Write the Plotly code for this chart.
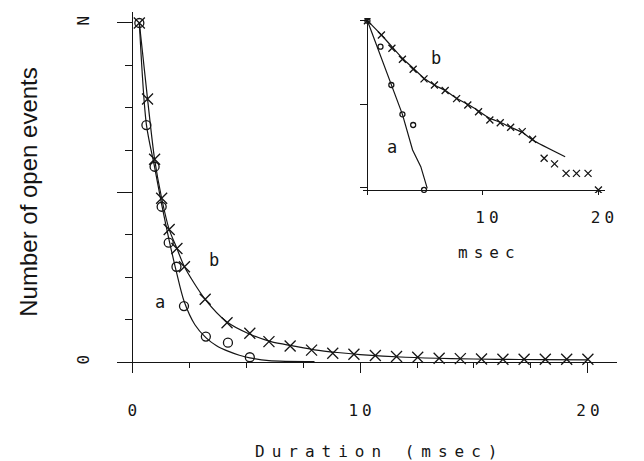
import math
import plotly.graph_objects as go

# ---------------- data (fraction of N) ----------------
# main plot, linear scale
t_a = [0.31, 0.62, 0.98, 1.29, 1.60, 1.94, 2.27, 3.23, 4.20, 5.16]
n_a = [1.0, 0.699, 0.576, 0.458, 0.352, 0.281, 0.165, 0.075, 0.057, 0.014]
t_b = [0.31, 0.67, 0.98, 1.29, 1.62, 1.96, 2.29, 3.20, 4.16, 5.16, 6.0, 6.93,
       7.87, 8.8, 9.73, 10.67, 11.6, 12.53, 13.47, 14.4, 15.33, 16.27, 17.2,
       18.13, 19.07, 20.0]
n_b = [1.0, 0.776, 0.598, 0.483, 0.391, 0.335, 0.281, 0.185, 0.116, 0.085,
       0.060, 0.047, 0.035, 0.026, 0.023, 0.019, 0.016, 0.014, 0.011, 0.010,
       0.009, 0.008, 0.008, 0.008, 0.008, 0.008]
fit_t_a = [0.31, 0.62, 0.98, 1.29, 1.60, 1.94, 2.27, 2.75, 3.23, 3.7, 4.2,
           4.7, 5.16, 6.0, 8.0]
fit_n_a = [1.0, 0.70, 0.575, 0.465, 0.365, 0.265, 0.18, 0.11, 0.072, 0.048,
           0.032, 0.02, 0.012, 0.004, 0.001]
fit_t_b = [0.31, 0.67, 0.98, 1.29, 1.62, 1.96, 2.29, 3.2, 4.16, 5.16, 6.09,
           7.1, 8.0, 9.0, 10, 12, 14, 16, 18, 20]
fit_n_b = [1.0, 0.776, 0.598, 0.483, 0.391, 0.335, 0.281, 0.185, 0.118,
           0.082, 0.060, 0.047, 0.036, 0.028, 0.022, 0.014, 0.010, 0.008,
           0.007, 0.006]

# inset, log scale
it_a = [0, 1.13, 2.07, 3.03, 3.96, 4.90]
in_a = [1.0, 0.488, 0.169, 0.0752, 0.056, 0.0093]
it_b = [0, 1.21, 2.12, 3.03, 3.96, 4.9, 5.8, 6.73, 7.72, 8.69, 9.62, 10.6,
        11.5, 12.4, 13.4, 14.3, 15.3, 16.2, 17.2, 18.1, 19.1, 20.0]
in_b = [1.0, 0.673, 0.466, 0.344, 0.261, 0.200, 0.169, 0.145, 0.116, 0.0973,
        0.0809, 0.0643, 0.0597, 0.0525, 0.0466, 0.0377, 0.0223, 0.0191,
        0.0147, 0.0147, 0.0147, 0.0093]
ifit_t_a = [0, 2.07, 3.03, 3.91, 4.62, 5.18]
ifit_n_a = [1.0, 0.169, 0.0752, 0.0281, 0.0177, 0.0097]
ifit_t_b = [0, 1.21, 2.12, 3.03, 3.96, 4.9, 5.8, 6.73, 7.72, 8.69, 9.62,
            10.6, 11.5, 12.4, 13.4, 14.3, 17.12]
ifit_n_b = [1.0, 0.673, 0.488, 0.354, 0.269, 0.204, 0.169, 0.145, 0.117,
            0.0991, 0.0824, 0.0673, 0.0603, 0.0525, 0.0457, 0.037, 0.0233]

main_xticks = [0, 10, 20]
main_xticktext = ["0", "10", "20"]
main_yticks = [0, 0.5, 1.0]
main_yticktext = ["0", "", "N"]
inset_xticks = [0, 10, 20]
inset_xticktext = ["", "10", "20"]
inset_yticks = [0.01, 0.1, 1.0]

x_title = "Duration (msec)"
y_title = "Number of open events"
inset_title = "msec"

INK = "#151515"
PLOT_FONT = "DejaVu Sans Mono"
W, H = 644, 461


def sp(txt, ls=5):
    return "<span style='letter-spacing:%dpx'>%s</span>" % (ls, txt)


fig = go.Figure()
line = dict(color=INK, width=1.2)
fig.add_trace(go.Scatter(x=fit_t_a, y=fit_n_a, mode="lines", line=dict(line, shape="spline", smoothing=0.8),
                         xaxis="x", yaxis="y", hoverinfo="skip"))
fig.add_trace(go.Scatter(x=fit_t_b, y=fit_n_b, mode="lines", line=dict(line, shape="spline", smoothing=0.8),
                         xaxis="x", yaxis="y", hoverinfo="skip"))
fig.add_trace(go.Scatter(x=t_a, y=n_a, mode="markers",
                         marker=dict(symbol="circle-open", size=9, color=INK, line=dict(width=1.3, color=INK)),
                         xaxis="x", yaxis="y"))
fig.add_trace(go.Scatter(x=t_b, y=n_b, mode="markers",
                         marker=dict(symbol="x-thin-open", size=11, color=INK, line=dict(width=1.3, color=INK)),
                         xaxis="x", yaxis="y"))

# inset
fig.add_trace(go.Scatter(x=ifit_t_a, y=ifit_n_a, mode="lines", line=line,
                         xaxis="x2", yaxis="y2", hoverinfo="skip"))
fig.add_trace(go.Scatter(x=ifit_t_b, y=ifit_n_b, mode="lines", line=dict(line, shape="spline", smoothing=0.6),
                         xaxis="x2", yaxis="y2", hoverinfo="skip"))
fig.add_trace(go.Scatter(x=it_a, y=in_a, mode="markers",
                         marker=dict(symbol="circle-open", size=5, color=INK, line=dict(width=1.3, color=INK)),
                         xaxis="x2", yaxis="y2"))
fig.add_trace(go.Scatter(x=it_b, y=in_b, mode="markers",
                         marker=dict(symbol="x-thin-open", size=7, color=INK, line=dict(width=1.3, color=INK)),
                         xaxis="x2", yaxis="y2"))


def px_x(p):
    return p / W


def px_y(p):
    return (H - p) / H


tickfont = dict(family=PLOT_FONT, size=16, color=INK)
common = dict(showgrid=False, zeroline=False, showline=True, linecolor=INK,
              linewidth=1.3, tickcolor=INK, tickwidth=1.3, ticks="outside")

fig.update_layout(
    width=W, height=H, margin=dict(l=0, r=0, t=0, b=0),
    paper_bgcolor="white", plot_bgcolor="white", showlegend=False,
    xaxis=dict(common, domain=[px_x(120), px_x(630)], range=[-0.645, 21.29],
               anchor="free", position=px_y(362),
               tickvals=main_xticks, ticktext=[sp(t, 4) for t in main_xticktext],
               ticklen=10, tickfont=tickfont, ticklabelstandoff=24, ticklabelshift=2,
               minor=dict(dtick=2.5, tick0=0, ticklen=5, ticks="outside", tickcolor=INK, tickwidth=1.3, showgrid=False)),
    yaxis=dict(common, domain=[px_y(372), px_y(12)], range=[-0.0295, 1.0324],
               anchor="free", position=px_x(135),
               tickvals=main_yticks, ticktext=main_yticktext, tickangle=-90,
               ticklen=15, tickfont=tickfont, ticklabelstandoff=22,
               minor=dict(dtick=0.125, tick0=0, ticklen=7, ticks="outside", tickcolor=INK, tickwidth=1.3, showgrid=False),
               title=dict(text=y_title, font=dict(family="Liberation Sans", size=24, color=INK), standoff=28)),
    xaxis2=dict(common, domain=[px_x(370), px_x(617)], range=[-0.424, 20.53],
                anchor="free", position=px_y(190),
                tickvals=inset_xticks, ticktext=[sp(t, 4) for t in inset_xticktext],
                ticklen=4, tickfont=tickfont, ticklabelstandoff=9, ticklabelshift=6),
    yaxis2=dict(common, type="log", domain=[px_y(193), px_y(18)], range=[-2.068, 0.032],
                anchor="free", position=px_x(375),
                tickvals=inset_yticks, ticktext=["", "", ""], ticklen=7),
)

ttl = dict(showarrow=False, xref="paper", yref="paper", xanchor="center", yanchor="middle",
           font=dict(family=PLOT_FONT, size=16, color=INK))
fig.add_annotation(x=px_x(388), y=px_y(451), text=sp(x_title, 7), **ttl)
fig.add_annotation(x=px_x(500), y=px_y(252), text=sp(inset_title, 6), **ttl)

lab = dict(showarrow=False, font=dict(family=PLOT_FONT, size=17, color=INK))
fig.add_annotation(x=3.6, y=0.3, xref="x", yref="y", text="b", **lab)
fig.add_annotation(x=1.2, y=0.178, xref="x", yref="y", text="a", **lab)
fig.add_annotation(x=5.94, y=math.log10(0.356), xref="x2", yref="y2", text="b", **lab)
fig.add_annotation(x=2.12, y=math.log10(0.0305), xref="x2", yref="y2", text="a", **lab)

fig.write_html("out.html")
